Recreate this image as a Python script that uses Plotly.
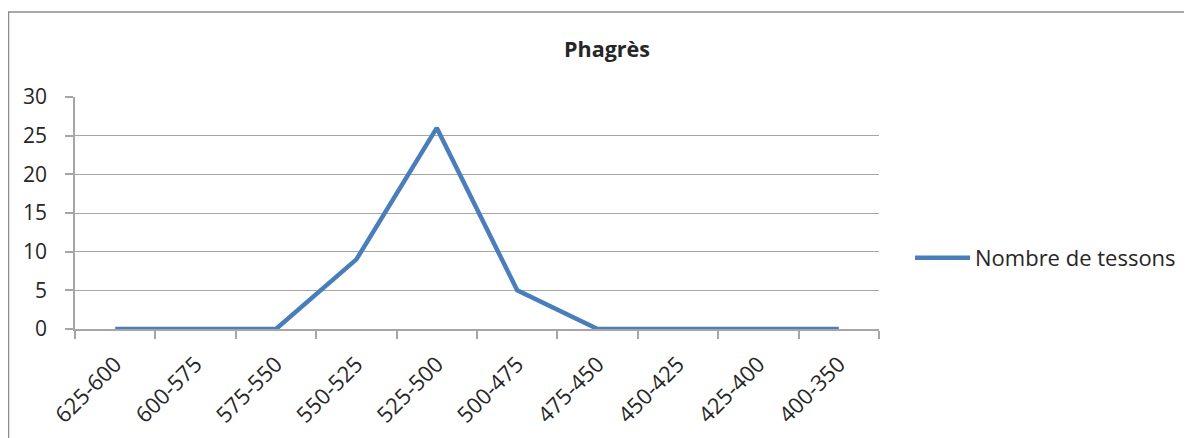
import plotly.graph_objects as go

# data
categories = ['625-600', '600-575', '575-550', '550-525', '525-500',
              '500-475', '475-450', '450-425', '425-400', '400-350']
nombre_de_tessons = [0, 0, 0, 9, 26, 5, 0, 0, 0, 0]
y_ticks = [0, 5, 10, 15, 20, 25, 30]

# page body adds an 8px margin, so the figure is drawn 8px smaller
W, H = 1184, 430
L, T, pw, ph = 67, 89, 804, 232
R, B = W - L - pw, H - T - ph

font = 'Open Sans'
txt = '#262626'
grid = '#a6a6a6'

fig = go.Figure()
fig.add_trace(go.Scatter(
	x=categories, y=nombre_de_tessons, mode='lines', name='Nombre de tessons',
	line=dict(color='#4a7ebb', width=4.5),
))

fig.update_layout(
	width=W, height=H,
	margin=dict(l=L, r=R, t=T, b=B, pad=0, autoexpand=False),
	paper_bgcolor='white', plot_bgcolor='white',
	font=dict(family=font, size=21, color=txt),
	title=dict(text='<b>Phagrès</b>', x=599 / W, xanchor='center',
			   y=1 - 41 / H, yanchor='middle', font=dict(size=21.5, family=font, color=txt)),
	showlegend=True,
	legend=dict(x=(902 - L) / pw, xanchor='left', y=(T + ph - 250) / ph, yanchor='middle',
				itemwidth=55, font=dict(size=22, family=font, color=txt),
				bgcolor='rgba(0,0,0,0)'),
	xaxis=dict(type='category', tickangle=-45, showline=True, linecolor=grid, linewidth=1.5,
			   ticks='outside', ticklen=8, tickcolor=grid, tickwidth=1.5, tickson='boundaries',
			   showgrid=False, tickfont=dict(size=22), ticklabelstandoff=12, automargin=False,
			   range=[-0.5, len(categories) - 0.5]),
	yaxis=dict(range=[0, 30], tickvals=y_ticks, showline=True, linecolor=grid, linewidth=1.5,
			   ticks='outside', ticklen=8, tickcolor=grid, tickwidth=1.5, automargin=False,
			   showgrid=True, gridcolor=grid, gridwidth=1.3, zeroline=False,
			   tickfont=dict(size=21), ticklabelstandoff=14),
	shapes=[dict(type='rect', xref='paper', yref='paper',
				 x0=(0.5 - L) / pw, x1=(W + 10 - L) / pw,
				 y0=-(H + 10 - T - ph) / ph, y1=(T + ph - 4) / ph,
				 line=dict(color='#8c8c8c', width=1.5), fillcolor='rgba(0,0,0,0)', layer='below')],
)

fig.write_html('out.html')
